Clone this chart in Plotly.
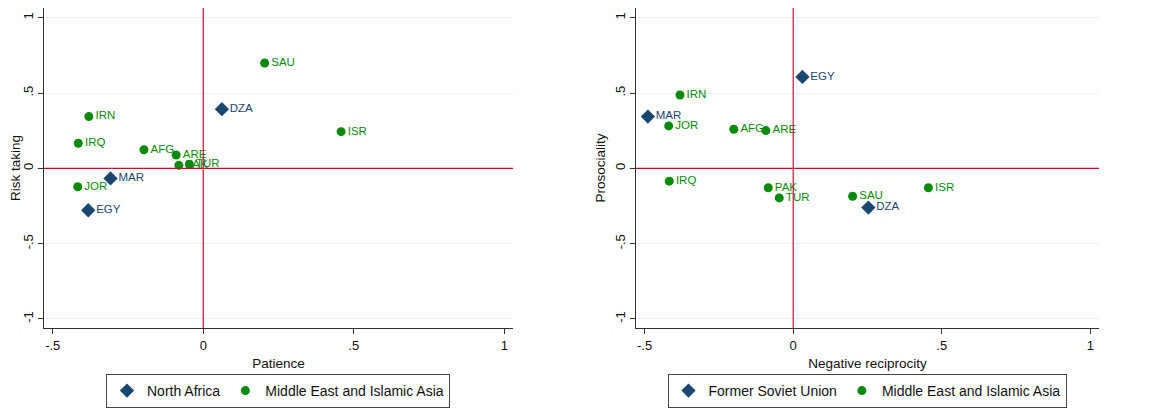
import plotly.graph_objects as go

# left panel: patience vs risk taking
na_codes_l = ['DZA', 'MAR', 'EGY']
na_patience = [0.062, -0.308, -0.382]
na_risk = [0.393, -0.067, -0.278]

me_codes_l = ['SAU', 'ISR', 'IRN', 'IRQ', 'AFG', 'ARE', 'PAK', 'TUR', 'JOR']
me_patience = [0.204, 0.458, -0.380, -0.415, -0.197, -0.090, -0.081, -0.046, -0.417]
me_risk = [0.700, 0.244, 0.344, 0.167, 0.124, 0.089, 0.020, 0.026, -0.122]

# right panel: negative reciprocity vs prosociality
fsu_codes_r = ['EGY', 'MAR', 'DZA']
fsu_negrec = [0.031, -0.489, 0.253]
fsu_prosoc = [0.607, 0.344, -0.260]

me_codes_r = ['IRN', 'JOR', 'AFG', 'ARE', 'IRQ', 'PAK', 'TUR', 'SAU', 'ISR']
me_negrec = [-0.381, -0.419, -0.200, -0.092, -0.417, -0.084, -0.047, 0.200, 0.455]
me_prosoc = [0.487, 0.282, 0.260, 0.251, -0.085, -0.129, -0.196, -0.185, -0.129]

tick_vals = [-1, -0.5, 0, 0.5, 1]
tick_text = ['-1', '-.5', '0', '.5', '1']

NAVY = '#1a476f'
GREEN = '#0a8a0a'
RED = '#c8102e'
FONT = 'Liberation Sans, Arial, sans-serif'

W, H = 1167, 410
PAD = 8  # the page body adds 8px margin, so pull everything back by that


def px_x(p):
    return (p - PAD) / W


def px_y(p):
    return 1 - (p - PAD) / H


fig = go.Figure()


def add_group(xs, ys, codes, name, symbol, size, color, xa, ya, legend):
    fig.add_trace(go.Scatter(
        x=xs, y=ys, text=codes, name=name,
        mode='markers+text', textposition='middle right',
        marker=dict(symbol=symbol, size=size, color=color),
        textfont=dict(color=color, size=11.5, family=FONT),
        xaxis=xa, yaxis=ya, legend=legend,
    ))


add_group(na_patience, na_risk, na_codes_l, 'North Africa', 'diamond', 11, NAVY, 'x', 'y', 'legend')
add_group(me_patience, me_risk, me_codes_l, 'Middle East and Islamic Asia', 'circle', 9, GREEN, 'x', 'y', 'legend')
add_group(fsu_negrec, fsu_prosoc, fsu_codes_r, 'Former Soviet Union', 'diamond', 11, NAVY, 'x2', 'y2', 'legend2')
add_group(me_negrec, me_prosoc, me_codes_r, 'Middle East and Islamic Asia', 'circle', 9, GREEN, 'x2', 'y2', 'legend2')

xaxis_common = dict(
    range=[-0.529, 1.029], tickvals=tick_vals[1:], ticktext=tick_text[1:],
    showgrid=False, zeroline=False, showline=True, linecolor='#333', linewidth=1,
    ticks='outside', ticklen=5, tickcolor='#333', automargin=False,
    tickfont=dict(size=13, color='#111', family=FONT),
    title_font=dict(size=13.5, color='#111', family=FONT), title_standoff=6,
)
yaxis_common = dict(
    range=[-1.06, 1.065], tickvals=tick_vals, ticktext=tick_text,
    showgrid=True, gridcolor='#eaf1f2', gridwidth=1, zeroline=False,
    showline=True, linecolor='#333', linewidth=1, automargin=False,
    ticks='outside', ticklen=5, tickcolor='#333', tickangle=-90,
    tickfont=dict(size=13, color='#111', family=FONT),
    title_font=dict(size=13.5, color='#111', family=FONT), title_standoff=4,
)

legend_common = dict(
    orientation='h', xanchor='center', yanchor='middle', y=px_y(391),
    bordercolor='#444', borderwidth=1, bgcolor='white',
    font=dict(size=14, color='#111', family=FONT),
)

y_dom = [px_y(328), px_y(8)]

fig.update_layout(
    width=W, height=H,
    margin=dict(l=0, r=0, t=0, b=0, autoexpand=False),
    paper_bgcolor='white', plot_bgcolor='white',
    xaxis=dict(domain=[px_x(44), px_x(513)], anchor='y', title_text='Patience', **xaxis_common),
    yaxis=dict(domain=y_dom, anchor='x', title_text='Risk taking', **yaxis_common),
    xaxis2=dict(domain=[px_x(636), px_x(1099)], anchor='y2', title_text='Negative reciprocity', **xaxis_common),
    yaxis2=dict(domain=y_dom, anchor='x2', title_text='Prosociality', **yaxis_common),
    legend=dict(x=px_x(278), **legend_common),
    legend2=dict(x=px_x(867), **legend_common),
)

# red reference lines at zero
for xa, ya in [('x', 'y'), ('x2', 'y2')]:
    fig.add_shape(type='line', xref=xa, yref=ya + ' domain', x0=0, x1=0, y0=0, y1=1,
                  line=dict(color=RED, width=1.2))
    fig.add_shape(type='line', xref=xa + ' domain', yref=ya, x0=0, x1=1, y0=0, y1=0,
                  line=dict(color=RED, width=1.2))

fig.write_html('out.html')
